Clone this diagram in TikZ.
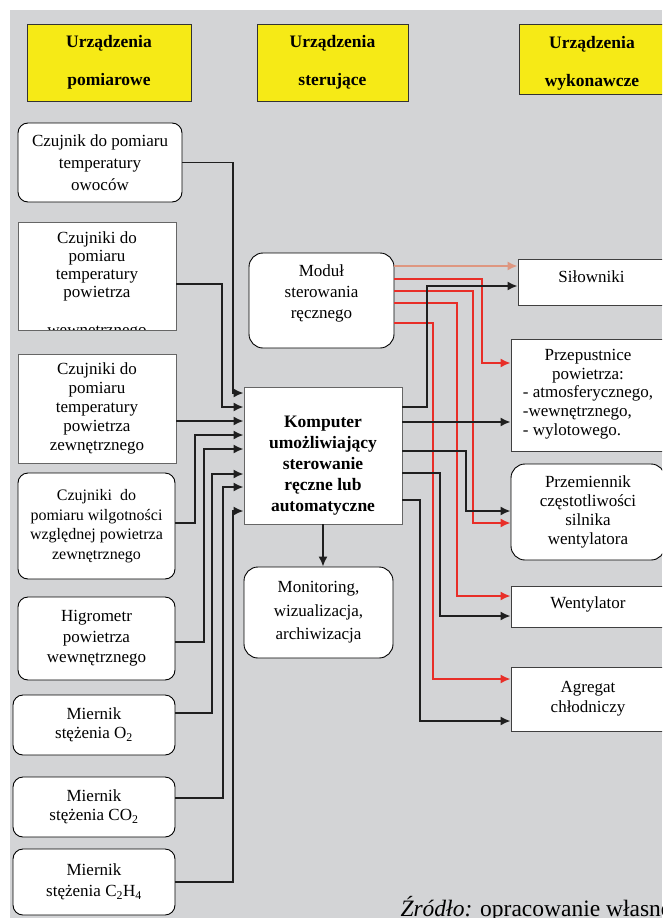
\documentclass[tikz,border=0pt]{standalone}
\usepackage{fontspec}
\setmainfont{Liberation Serif}
\usetikzlibrary{arrows.meta,positioning,calc}
\definecolor{bggray}{RGB}{211,212,214}
\definecolor{hdryellow}{RGB}{246,234,22}
\definecolor{lnred}{RGB}{232,46,40}
\definecolor{lnsalmon}{RGB}{222,150,128}
\newcommand{\boxfont}[1]{\fontsize{17}{#1}\selectfont}

\begin{document}
\begin{tikzpicture}[x=1pt,y=-1pt,>={Latex[length=10pt,width=9pt]},
  hdr/.style={draw=black!80,line width=1pt,fill=hdryellow,inner sep=0pt,align=center,
              font=\fontsize{17.5}{38}\selectfont\bfseries},
  sensor/.style={draw=black,line width=0.9pt,fill=white,rounded corners=10pt,
                 inner sep=0pt,align=center,font=\boxfont{19.5}},
  sensorsq/.style={sensor,sharp corners,draw=black!60},
  conn/.style={->,line width=1.7pt,black!88},
  redconn/.style={->,line width=1.7pt,lnred}]
  \useasboundingbox (0,0) rectangle (662,918);
  \clip (0,0) rectangle (662,918);
  \fill[white] (0,0) rectangle (662,918);
  \fill[bggray] (10,10) rectangle (662,918);

  % headers
  \node[hdr,minimum width=164pt,minimum height=77pt] (hdrpom) at (109,62.5) {Urządzenia\\pomiarowe};
  \node[hdr,minimum width=151pt,minimum height=77pt] (hdrster) at (332.5,62.5) {Urządzenia\\sterujące};
  \node[hdr,minimum width=146pt,minimum height=70pt] (hdrwyk) at (592,59) {\rule{0pt}{20pt}Urządzenia\\wykonawcze};

  % measuring devices
  \node[sensor,minimum width=164pt,minimum height=79pt,font=\boxfont{22}] (czA) at (100,162.5)
      {Czujnik do pomiaru\\temperatury\\owoców};
  \node[sensorsq,minimum width=158pt,minimum height=108pt,
        path picture={\node[align=center,font=\boxfont{18}] at ([yshift=-9pt]path picture bounding box.center)
            {Czujniki do\\pomiaru\\temperatury\\powietrza\\[20pt]wewnętrznego};}] (czB) at (97,276) {};
  \node[sensorsq,minimum width=158pt,minimum height=109pt,font=\boxfont{19}] (czC) at (97,408.5)
      {Czujniki do\\pomiaru\\temperatury\\powietrza\\zewnętrznego};
  \node[sensor,minimum width=157pt,minimum height=106pt,font=\fontsize{16}{19.5}\selectfont] (czD) at (96.5,526)
      {Czujniki~ do\\pomiaru wilgotności\\względnej powietrza\\zewnętrznego};
  \node[sensor,minimum width=157pt,minimum height=83pt,font=\boxfont{20.5}] (hig) at (96.5,638.5)
      {Higrometr\\powietrza\\wewnętrznego};
  \node[sensor,minimum width=162pt,minimum height=60pt] (mO) at (94,725)
      {Miernik\\stężenia O\textsubscript{2}};
  \node[sensor,minimum width=162pt,minimum height=60pt] (mCO) at (94,807)
      {Miernik\\stężenia CO\textsubscript{2}};
  \node[sensor,minimum width=162pt,minimum height=66pt,font=\boxfont{21}] (mC) at (94,882)
      {Miernik\\stężenia C\textsubscript{2}H\textsubscript{4}};

  % control devices
  \node[sensor,rounded corners=14pt,minimum width=145pt,minimum height=95pt,font=\boxfont{21}] (mod) at (321.5,300.5)
      {Moduł\\sterowania\\ręcznego\rule[-17pt]{0pt}{1pt}};
  \node[sensorsq,minimum width=158pt,minimum height=137pt,font=\fontsize{17.5}{21}\selectfont\bfseries] (komp) at (323,455.5)
      {\rule{0pt}{32pt}Komputer\\umożliwiający\\sterowanie\\ręczne lub\\automatyczne};
  \node[sensor,rounded corners=14pt,minimum width=149pt,minimum height=91pt,font=\boxfont{23.5}] (mon) at (318.5,612.5)
      {Monitoring,\\wizualizacja,\\archiwizacja};

  % executive devices
  \node[sensorsq,draw=black!75,minimum width=147pt,minimum height=46pt,text depth=10pt] (silow) at (591.5,282) {Siłowniki};
  \node[sensorsq,draw=black!75,minimum width=154pt,minimum height=112pt,font=\boxfont{19}] (przep) at (588,395)
      {Przepustnice\\powietrza:\\\begin{tabular}{@{}l@{}}- atmosferycznego,\\-wewnętrznego,\\- wylotowego.\end{tabular}};
  \node[sensor,rounded corners=14pt,minimum width=154pt,minimum height=96pt,font=\boxfont{19}] (przem) at (588,512)
      {Przemiennik\\częstotliwości\\silnika\\wentylatora};
  \node[sensorsq,draw=black!75,minimum width=154pt,minimum height=41pt,text depth=7pt] (went) at (588,606.5) {Wentylator};
  \node[sensorsq,draw=black!75,minimum width=154pt,minimum height=64pt,font=\boxfont{20}] (agreg) at (588,699)
      {Agregat\\chłodniczy};

  % inputs of the computer
  \foreach \src/\ys/\xv/\yk in {czA/162.5/233/393, czB/284/222/407, czC/421/230/421, czD/523/195/435,
                                 hig/642/204/449, mO/713/212/474, mCO/798/223/487, mC/882/233/511}
    \draw[conn] (\src.east |- 0,\ys) -| (\xv,\yk) -- (komp.west |- 0,\yk);

  % manual module -> executive devices
  \draw[redconn,lnsalmon] (mod.east |- 0,266) -- (silow.west |- 0,266);
  \foreach \ys/\xv/\dst/\yd in {279/482/przep/363, 291/473/przem/523, 303/457/went/596, 323/433/agreg/679}
    \draw[redconn] (mod.east |- 0,\ys) -| (\xv,\yd) -- (\dst.west |- 0,\yd);

  % computer -> executive devices
  \foreach \ys/\xv/\dst/\yd in {407/427/silow/286, 422/460/przep/422, 451/466/przem/511,
                                 473/440/went/616, 500/420/agreg/721}
    \draw[conn] (komp.east |- 0,\ys) -| (\xv,\yd) -- (\dst.west |- 0,\yd);
  \draw[conn] (komp.south) -- (komp.south |- mon.north);

  \node[anchor=base west,font=\fontsize{23.5}{25}\selectfont] (zrodlo) at (397,916)
      {\textit{Źródło:} opracowanie własne};
\end{tikzpicture}
\end{document}
